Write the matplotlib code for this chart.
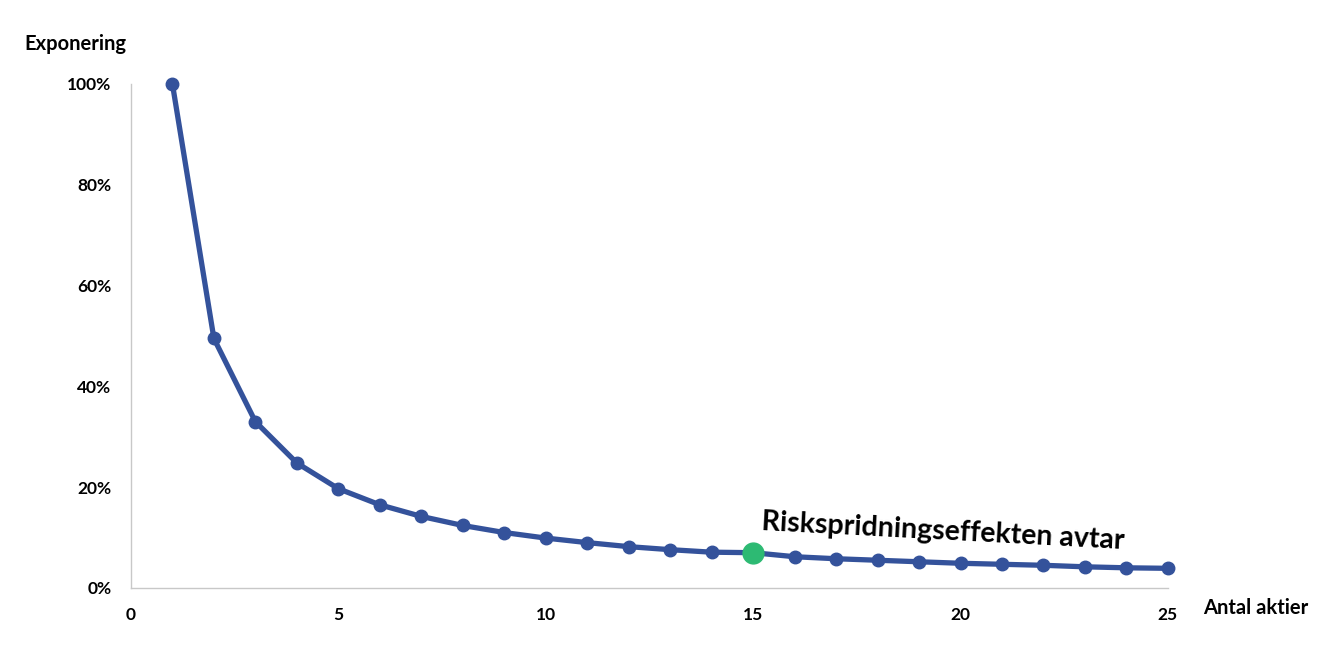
import numpy as np
import matplotlib.pyplot as plt
from matplotlib.ticker import FuncFormatter

# data
antal = list(range(1, 26))
exponering = [1.00, 0.495, 0.33, 0.248, 0.197, 0.165, 0.142, 0.124, 0.11, 0.099,
              0.09, 0.082, 0.076, 0.071, 0.07, 0.062, 0.058, 0.055, 0.052, 0.049,
              0.047, 0.045, 0.042, 0.04, 0.039]
highlight_x = 15
highlight_y = exponering[highlight_x - 1]
xticks = [0, 5, 10, 15, 20, 25]
yticks = [0, 0.2, 0.4, 0.6, 0.8, 1.0]

plt.rcParams['font.family'] = ['Lato', 'DejaVu Sans']
blue = '#34529b'
green = '#2dba73'

fig = plt.figure(figsize=(13.2, 6.52), dpi=100)
ax = fig.add_axes([0.0992, 0.0982, 0.7856, 0.773])

ax.plot(antal, exponering, color=blue, lw=3.8, marker='o', ms=9,
        markerfacecolor=blue, markeredgecolor=blue, zorder=3, clip_on=False)
ax.plot([highlight_x], [highlight_y], 'o', color=green, ms=15, zorder=4, clip_on=False)

ax.set_xlim(0, 25)
ax.set_ylim(0, 1)
ax.set_xticks(xticks)
ax.set_yticks(yticks)
ax.yaxis.set_major_formatter(FuncFormatter(lambda v, p: f'{v*100:.0f}%'))
ax.tick_params(length=0, labelsize=12.5, pad=14)
for lab in ax.get_xticklabels() + ax.get_yticklabels():
    lab.set_fontweight('bold')

for s in ['top', 'right']:
    ax.spines[s].set_visible(False)
for s in ['left', 'bottom']:
    ax.spines[s].set_color('#c8c8c8')
    ax.spines[s].set_linewidth(1.0)

fig.text(24/1320, 1 - 44/652, 'Exponering', fontsize=14.5, fontweight='bold',
         ha='left', va='center')
fig.text(1203/1320, 1 - 608/652, 'Antal aktier', fontsize=14.5, fontweight='bold',
         ha='left', va='center')

ax.annotate('Riskspridningseffekten avtar', xy=(highlight_x, highlight_y),
            xytext=(6, 13), textcoords='offset points', fontsize=20.5,
            fontweight='bold', rotation=-3, rotation_mode='anchor',
            ha='left', va='bottom')

fig.savefig('out.png', dpi=100)
